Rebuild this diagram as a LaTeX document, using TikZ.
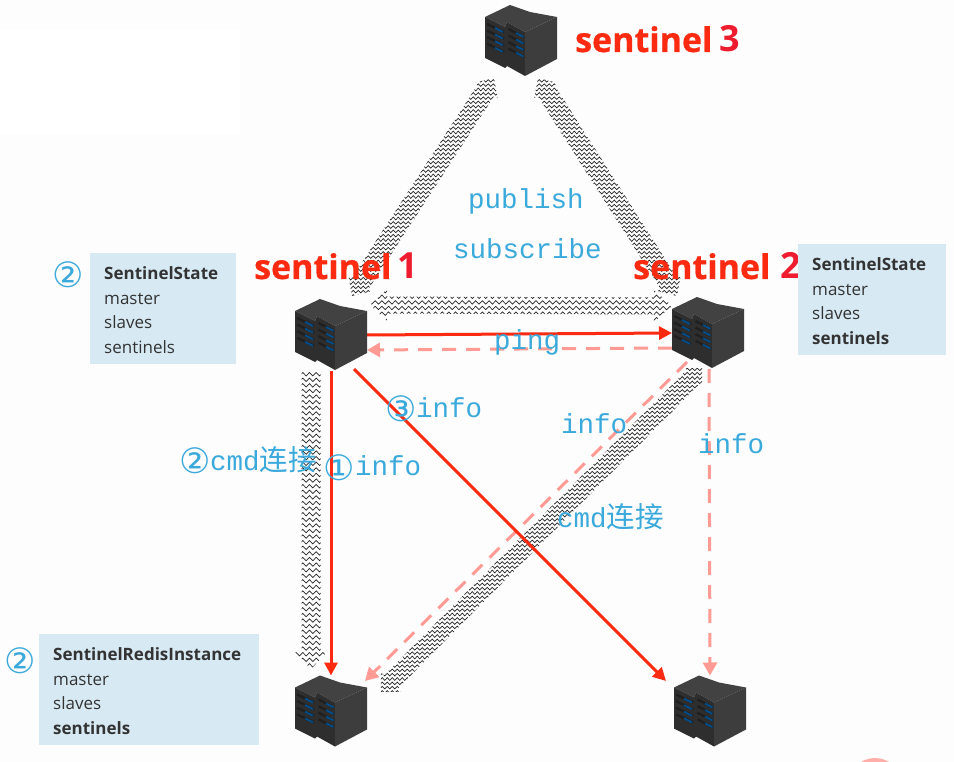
\documentclass[tikz,border=0pt]{standalone}
\usepackage{fontspec}
\setmainfont{Open Sans}
\newfontfamily\sentf[BoldFeatures={FakeBold=0.6}]{Open Sans}
\newfontfamily\monof{Liberation Mono}
\newfontfamily\cjkf{Noto Sans CJK SC}
\newfontfamily\symf{DejaVu Sans}
\usetikzlibrary{calc,arrows.meta,decorations.pathmorphing}
\definecolor{redline}{HTML}{FB2A10}
\definecolor{pinkline}{HTML}{FF9A94}
\definecolor{labblue}{HTML}{3AA9DC}
\definecolor{boxblue}{HTML}{D7E9F3}
\definecolor{digitred}{HTML}{EE1C2E}
\definecolor{bgpage}{HTML}{FDFDFD}
\newdimen\wax \newdimen\way \newdimen\wbx \newdimen\wby
% block arrow filled with rows of zigzag lines
% {from}{to}{half width}{head len A}{head half A}{head len B}{head half B}{row step}
\newcommand{\waveband}[8]{%
 \begin{scope}
  \coordinate (wp) at ($(#1)!#4pt!(#2)$);
  \coordinate (wq) at ($(#2)!#6pt!(#1)$);
  \clip (#1) -- ($(wp)!#5pt!90:(#2)$) -- ($(wp)!#3pt!90:(#2)$)
     -- ($(wq)!#3pt!-90:(#1)$) -- ($(wq)!#7pt!-90:(#1)$) -- (#2)
     -- ($(wq)!#7pt!90:(#1)$) -- ($(wq)!#3pt!90:(#1)$)
     -- ($(wp)!#3pt!-90:(#2)$) -- ($(wp)!#5pt!-90:(#2)$) -- cycle;
  \pgfextractx{\wax}{\pgfpointanchor{#1}{center}}%
  \pgfextracty{\way}{\pgfpointanchor{#1}{center}}%
  \pgfextractx{\wbx}{\pgfpointanchor{#2}{center}}%
  \pgfextracty{\wby}{\pgfpointanchor{#2}{center}}%
  \pgfmathsetmacro\xlo{min(\wax,\wbx)-30}%
  \pgfmathsetmacro\xhi{max(\wax,\wbx)+30}%
  \pgfmathsetmacro\ylo{min(\way,\wby)-30}%
  \pgfmathtruncatemacro\nrows{(abs(\way-\wby)+60)/#8}%
  \foreach \i in {0,...,\nrows}{%
    \pgfmathsetmacro\rowy{\ylo+\i*#8}%
    \draw[wave] (\xlo pt,\rowy pt) -- (\xhi pt,\rowy pt);
  }
 \end{scope}}
% server icon drawn in the 72 x 72 frame of a named node
\newcommand{\serverart}[1]{%
 \begin{scope}[shift={(#1.north west)}]
  \fill[srvtop] (0,12) -- (25,0) -- (45,7) -- (72,12) -- (40,27) -- (22,17) -- (20,22) -- cycle;
  \fill[srvleft] (0,12) -- (20,22) -- (22,17) -- (22,61) -- (20,63) -- (0,53) -- cycle;
  \fill[srvleft] (22,17) -- (40,27) -- (40,71) -- (22,61) -- cycle;
  \fill[srvright] (40,27) -- (72,12) -- (72,54) -- (40,71) -- cycle;
  \foreach \k in {0,1,2,3}{%
    \draw[srvrow] (2,{19+\k*6.6}) -- (19,{27+\k*6.6});
    \draw[srvblue] (10,{23+\k*6.6}) -- (18,{27+\k*6.6});
    \draw[srvrow] (23.5,{24+\k*6.6}) -- (39,{32+\k*6.6});
    \draw[srvblue] (31,{28+\k*6.6}) -- (38.5,{31.8+\k*6.6});
  }
 \end{scope}}
\tikzset{
 x=1pt,y=-1pt,
 wave/.style={decorate,decoration={zigzag,segment length=\wavelen,amplitude=\waveamp},line width=0.7pt,black!85},
 srvbox/.style={minimum width=72pt,minimum height=72pt,inner sep=0pt,outer sep=0pt},
 srvtop/.style={fill=black!74},
 srvleft/.style={fill=black!82},
 srvright/.style={fill=black!76},
 srvrow/.style={draw=black!88,line width=2.2pt},
 srvblue/.style={draw=blue!45!cyan!55!black,line width=1.8pt},
 redarrow/.style={draw=redline,line width=3pt,-{Triangle[length=13pt,width=13pt]}},
 pinkarrow/.style={draw=pinkline,line width=3pt,dash pattern=on 14pt off 10pt,-{Triangle[length=13pt,width=14pt]}},
 sentlabel/.style={anchor=base west,inner sep=0pt,text=redline,font=\fontsize{34}{36}\selectfont\sentf\bfseries},
 sentdigit/.style={anchor=base west,inner sep=0pt,text=digitred,font=\fontsize{36}{38}\selectfont\bfseries},
 infobox/.style={fill=boxblue,anchor=north west,inner xsep=14pt,inner ysep=0pt,align=left,text=black!80,
   font=\fontsize{17}{24.6}\selectfont,minimum height=111pt},
 monolabel/.style={anchor=base west,inner sep=0pt,text=labblue,font=\fontsize{27.5}{30}\selectfont\monof},
 circnum/.style={inner sep=0pt,text=labblue,font=\fontsize{35}{36}\selectfont\symf},
}
\def\wavelen{6.7pt}\def\waveamp{1.7pt}
\begin{document}
\begin{tikzpicture}
\path[use as bounding box,fill=bgpage] (0,0) rectangle (954,762);
\fill[white] (0,30) rectangle (240,135);
\begin{scope}
 \clip (0,0) rectangle (954,762);
 \fill[pinkline!80] (875,785) circle (27);
\end{scope}

\node[srvbox] (s3) at (521,41) {};
\node[srvbox] (s1) at (331,335) {};
\node[srvbox] (s2) at (708,333) {};
\node[srvbox] (b1) at (331,711.5) {};
\node[srvbox] (b2) at (710,711.5) {};

\coordinate (w1a) at (494,78);  \coordinate (w1b) at (352,296);
\coordinate (w2a) at (538,78);  \coordinate (w2b) at (677,296);
\coordinate (w3a) at (370,305); \coordinate (w3b) at (672,306);
\coordinate (w4a) at (311,371); \coordinate (w4b) at (311,669);
\coordinate (w5a) at (702,368); \coordinate (w5b) at (381,692);

\def\wavelen{5pt}\def\waveamp{1.3pt}
\waveband{w1a}{w1b}{10}{15}{14}{15}{14}{4.3}
\waveband{w2a}{w2b}{10}{15}{14}{15}{14}{4.3}
\waveband{w5a}{w5b}{9.5}{12}{12}{14}{14}{4.3}
\def\wavelen{6.7pt}\def\waveamp{1.7pt}
\waveband{w3a}{w3b}{8.5}{17}{16}{18}{16}{5.6}
\waveband{w4a}{w4b}{9.5}{0}{9.5}{17}{16}{5.6}

\draw[pinkarrow] ($(s2.west)+(0,15)$) -- ($(s1.east)+(0,15)$);
\draw[pinkarrow] ($(s2.south west)+(15,-7)$) -- ($(b1.north east)+(-2,5.5)$);
\draw[pinkarrow] ($(s2.south)+(1,0)$) -- (b2.north);
\draw[redarrow] (s1.east) -- (s2.west);
\draw[redarrow] (s1.south) -- (b1.north);
\draw[redarrow] ($(s1.south east)+(-13,-2)$) -- ($(b2.north west)+(-8,5.5)$);

\serverart{s3}\serverart{s1}\serverart{s2}\serverart{b1}\serverart{b2}

\node[sentlabel] (t3) at (575,52) {sentinel};
\node[sentdigit] (d3) at (719,52) {3};
\node[sentlabel] (t1) at (254,279) {sentinel};
\node[sentdigit] (d1) at (397,279) {1};
\node[sentlabel] (t2) at (633,279) {sentinel};
\node[sentdigit] (d2) at (780,279) {2};

\node[infobox,text width=118pt] (box1) at (90,253) {\rule{0pt}{16pt}\textbf{SentinelState}\\master\\slaves\\sentinels};
\node[infobox,text width=120pt] (box2) at (798,244) {\rule{0pt}{16pt}\textbf{SentinelState}\\master\\slaves\\\textbf{sentinels}};
\node[infobox,text width=192pt] (box3) at (39,634) {\rule{0pt}{16pt}\textbf{SentinelRedisInstance}\\master\\slaves\\\textbf{sentinels}};
\node[circnum] (c1) at (68,275) {②};
\node[circnum] (c2) at (20,661) {②};

\node[monolabel] (pub) at (468,209) {publish};
\node[monolabel] (sub) at (453,259) {subscribe};
\node[monolabel] (ping) at (494,349) {ping};
\node[circnum] (c3) at (401,409) {③};
\node[monolabel] (i3) at (416,417) {info};
\node[circnum] (c4) at (339,468) {①};
\node[monolabel] (i1) at (355,475) {info};
\node[circnum] (c5) at (195,461) {②};
\node[monolabel] (cmd1) at (210,470) {cmd{\fontsize{28.5}{30}\cjkf 连接}};
\node[monolabel] (i4) at (561,433) {info};
\node[monolabel] (i5) at (698,453) {info};
\node[monolabel] (cmd2) at (557,527) {cmd{\fontsize{28.5}{30}\cjkf 连接}};
\end{tikzpicture}
\end{document}
